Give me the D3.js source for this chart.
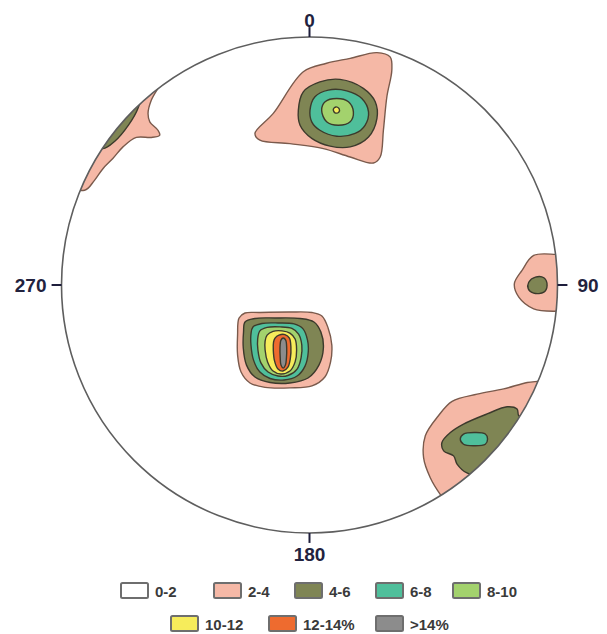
<!DOCTYPE html>
<html>
<head>
<meta charset="utf-8">
<script src="https://cdn.jsdelivr.net/npm/d3@7"></script>
<style>
  body { margin: 0; background: #fff; }
  svg { display: block; font-family: "Liberation Sans", Arial, sans-serif; }
</style>
</head>
<body>
<div id="chart"></div>
<script>
// contour classes (percent per 1% area)
const levels = ['0-2', '2-4', '4-6', '6-8', '8-10', '10-12', '12-14%', '>14%']
const palette = ['#ffffff', '#f5b8a6', '#7f8554', '#4fbf9b', '#a3d26d', '#f6ec5b', '#ee6b2f', '#8c8c8c']

// compass ticks around the primitive circle
const azimuths = [0, 90, 180, 270]
const azimuthLabels = ['0', '90', '180', '270']

// contour outlines, [level index, [[east, north], ...]] in net units (radius = 100)
const northwestCluster = [
  [1, [[-61.1, 79.3], [-63.8, 74.5], [-65.1, 69.2], [-64.4, 65.8], [-61.1, 62.4], [-60.4, 60.4], [-63.8, 59.5],
       [-69.8, 59.5], [-75.2, 55.7], [-79.3, 51.0], [-83.3, 46.9], [-86.7, 42.2], [-90.7, 38.2],
       [-100.8, 42.2], [-84.6, 70.5], [-64.4, 86.7], [-58.0, 84.0]]],
  [2, [[-69.2, 71.2], [-73.0, 64.5], [-78.5, 58.0], [-83.3, 55.0], [-90.0, 58.0], [-78.0, 76.0], [-68.0, 77.0]]]
]

const northCluster = [
  [1, [[-22.0, 61.1], [-14.6, 69.2], [-2.5, 86.0], [6.9, 89.4], [16.4, 91.4], [27.2, 93.7], [32.5, 92.0],
       [33.2, 86.7], [31.2, 75.9], [29.8, 62.4], [28.5, 51.6], [25.8, 49.2], [16.4, 51.6], [5.6, 55.0],
       [-7.9, 57.0], [-20.0, 58.4]]],
  [2, [[-4.5, 70.5], [-2.5, 77.9], [4.2, 81.9], [12.3, 82.9], [21.7, 79.3], [26.5, 73.9], [27.2, 67.2],
       [23.8, 59.7], [16.4, 55.7], [8.3, 56.0], [0.9, 59.1], [-3.8, 64.4]]],
  [3, [[0.2, 70.5], [2.2, 75.9], [7.6, 78.6], [15.0, 78.3], [21.1, 75.2], [23.8, 69.8], [22.4, 64.4],
       [18.4, 61.1], [11.0, 60.0], [4.2, 62.4], [0.9, 65.8]]],
  [4, [[4.9, 70.5], [6.3, 73.9], [11.0, 75.2], [15.7, 73.9], [17.7, 69.8], [16.4, 65.8], [11.6, 64.4], [6.9, 65.8]]],
  [5, [[9.6, 70.8], [10.7, 71.8], [12.0, 71.0], [11.8, 69.7], [10.3, 69.4]]]
]

const eastCluster = [
  [1, [[90.4, 11.9], [85.7, 5.9], [82.6, 0.5], [84.4, -4.9], [90.4, -9.6], [99.9, -10.6],
       [107.3, -10.3], [107.3, 11.9], [99.9, 12.3]]],
  [2, [[88.4, 1.1], [91.1, 3.2], [94.5, 2.9], [95.8, -0.2], [94.5, -2.9], [90.4, -3.3], [88.2, -1.5]]]
]

const centerCluster = [
  [1, [[-28.4, -13.3], [-26.0, -11.3], [-20.0, -11.1], [-7.9, -10.9], [1.0, -11.1], [5.0, -12.5], [7.5, -17.3],
       [9.0, -24.2], [8.5, -31.0], [6.2, -37.1], [1.0, -40.7], [-7.9, -41.5], [-17.9, -41.3], [-24.0, -39.5],
       [-27.6, -35.1], [-29.0, -28.2], [-29.0, -20.2]]],
  [2, [[-26.0, -14.9], [-22.0, -13.5], [-13.9, -13.3], [-3.8, -13.5], [1.8, -14.9], [4.6, -19.0], [5.6, -25.4],
       [3.8, -32.3], [-0.6, -37.5], [-7.9, -39.5], [-15.9, -39.3], [-22.0, -37.1], [-25.4, -32.3], [-26.7, -25.4],
       [-26.6, -19.0]]],
  [3, [[-22.8, -16.9], [-19.2, -15.5], [-12.7, -15.3], [-6.2, -15.7], [-2.6, -17.7], [-0.8, -22.2], [-0.5, -27.0],
       [-1.8, -32.7], [-5.0, -36.7], [-10.3, -38.3], [-15.9, -37.7], [-20.0, -35.1], [-22.6, -30.2], [-23.6, -24.2],
       [-23.6, -19.8]]],
  [4, [[-20.0, -18.5], [-17.1, -17.1], [-11.9, -16.9], [-7.1, -17.5], [-4.4, -19.8], [-3.1, -24.2], [-3.4, -29.4],
       [-5.0, -33.9], [-8.7, -36.5], [-12.7, -36.7], [-16.7, -35.1], [-19.6, -31.4], [-20.8, -26.2], [-20.9, -21.8]]],
  [5, [[-17.1, -20.2], [-14.7, -18.7], [-11.1, -18.5], [-7.9, -19.4], [-5.8, -21.8], [-5.2, -26.2], [-5.8, -31.0],
       [-7.9, -34.7], [-11.5, -35.9], [-14.7, -34.7], [-16.9, -31.0], [-17.9, -26.2], [-17.9, -22.6]]],
  [6, [[-13.9, -21.4], [-12.3, -20.2], [-9.9, -20.0], [-8.1, -21.4], [-7.5, -25.0], [-7.7, -29.4], [-8.7, -33.1],
       [-10.7, -34.7], [-12.7, -33.9], [-14.1, -30.6], [-14.6, -26.2], [-14.5, -23.0]]],
  [7, [[-11.5, -22.2], [-10.6, -21.4], [-9.6, -22.2], [-9.2, -25.4], [-9.3, -29.4], [-9.7, -32.3], [-10.6, -33.5],
       [-11.5, -32.3], [-11.8, -29.4], [-11.9, -25.4]]]
]

const southeastCluster = [
  [1, [[46.7, -60.8], [52.0, -52.7], [57.5, -46.9], [67.6, -44.0], [78.3, -41.9], [87.8, -39.3], [93.8, -38.6],
       [97.2, -37.3], [103.9, -34.5], [94.3, -74.9], [58.1, -91.1], [52.7, -84.4], [48.7, -77.7], [46.0, -69.6]]],
  [2, [[53.4, -63.5], [56.8, -59.5], [62.1, -56.1], [71.6, -52.0], [79.7, -49.1], [83.7, -50.0], [84.4, -52.7],
       [88.3, -53.9], [83.0, -66.9], [69.7, -77.0], [63.5, -75.8], [59.5, -72.2], [58.1, -68.9], [54.1, -66.9]]],
  [3, [[60.8, -62.1], [62.1, -60.1], [66.9, -59.5], [70.9, -60.1], [71.8, -62.1], [70.9, -64.2], [66.2, -64.8],
       [62.1, -64.2]]]
]

const clusters = [northwestCluster, northCluster, eastCluster, centerCluster, southeastCluster]

const width = 607, height = 634
const cx = 309.5, cy = 285, R = 248

const svg = d3.select('#chart')
  .append('svg')
    .attr('width', width)
    .attr('height', height)

const x = d3.scaleLinear().domain([-100, 100]).range([cx - R, cx + R])
const y = d3.scaleLinear().domain([-100, 100]).range([cy + R, cy - R])

svg.append('defs')
  .append('clipPath')
    .attr('id', 'net')
  .append('circle')
    .attr('cx', x(0))
    .attr('cy', y(0))
    .attr('r', R)

const line = d3.line()
  .x(d => x(d[0]))
  .y(d => y(d[1]))
  .curve(d3.curveCatmullRomClosed.alpha(0.5))

const plot = svg.append('g').attr('clip-path', 'url(#net)')

clusters.forEach(cluster => {
  plot.append('g')
    .selectAll('path')
    .data(cluster)
    .enter()
    .append('path')
      .attr('d', d => line(d[1]))
      .attr('fill', d => palette[d[0]])
      .attr('stroke', d => d[0] === 1 ? '#7a5a4c' : '#3c3a2c')
      .attr('stroke-width', 1.4)
      .attr('stroke-linejoin', 'round')
})

// primitive circle
svg.append('circle')
  .attr('cx', x(0))
  .attr('cy', y(0))
  .attr('r', R)
  .attr('fill', 'none')
  .attr('stroke', '#5e5e5e')
  .attr('stroke-width', 1.6)

const rad = a => a * Math.PI / 180

svg.append('g')
  .selectAll('line')
  .data(azimuths)
  .enter()
  .append('line')
    .attr('x1', a => x(100 * Math.sin(rad(a))))
    .attr('y1', a => y(100 * Math.cos(rad(a))))
    .attr('x2', a => x(104 * Math.sin(rad(a))))
    .attr('y2', a => y(104 * Math.cos(rad(a))))
    .attr('stroke', '#1e1e3c')
    .attr('stroke-width', 2)

svg.append('g')
  .selectAll('text')
  .data(azimuths)
  .enter()
  .append('text')
    .attr('x', a => a === 90 ? x(100) + 20 : a === 270 ? x(-100) - 15 : x(0))
    .attr('y', a => a === 0 ? y(100) - 10 : a === 180 ? y(-100) + 28 : y(0) + 7)
    .attr('text-anchor', a => a === 90 ? 'start' : a === 270 ? 'end' : 'middle')
    .attr('font-size', 19)
    .attr('font-weight', 'bold')
    .attr('fill', '#22223e')
    .text((a, i) => azimuthLabels[i])

// legend
const legendRows = [
  { y: 583, x: [121, 214, 295, 376, 453], items: [0, 1, 2, 3, 4] },
  { y: 616, x: [171, 269, 376], items: [5, 6, 7] }
]

legendRows.forEach(row => {
  const g = svg.append('g')
    .selectAll('g')
    .data(row.items)
    .enter()
    .append('g')
      .attr('transform', (d, i) => `translate(${row.x[i]}, ${row.y})`)

  g.append('rect')
    .attr('width', 27)
    .attr('height', 15)
    .attr('rx', 1.5)
    .attr('fill', d => palette[d])
    .attr('stroke', '#6e6e6e')
    .attr('stroke-width', 2)

  g.append('text')
    .attr('x', 34)
    .attr('y', 13.5)
    .attr('font-size', 15)
    .attr('font-weight', 'bold')
    .attr('fill', '#3a3a3a')
    .text(d => levels[d])
})
</script>
</body>
</html>
